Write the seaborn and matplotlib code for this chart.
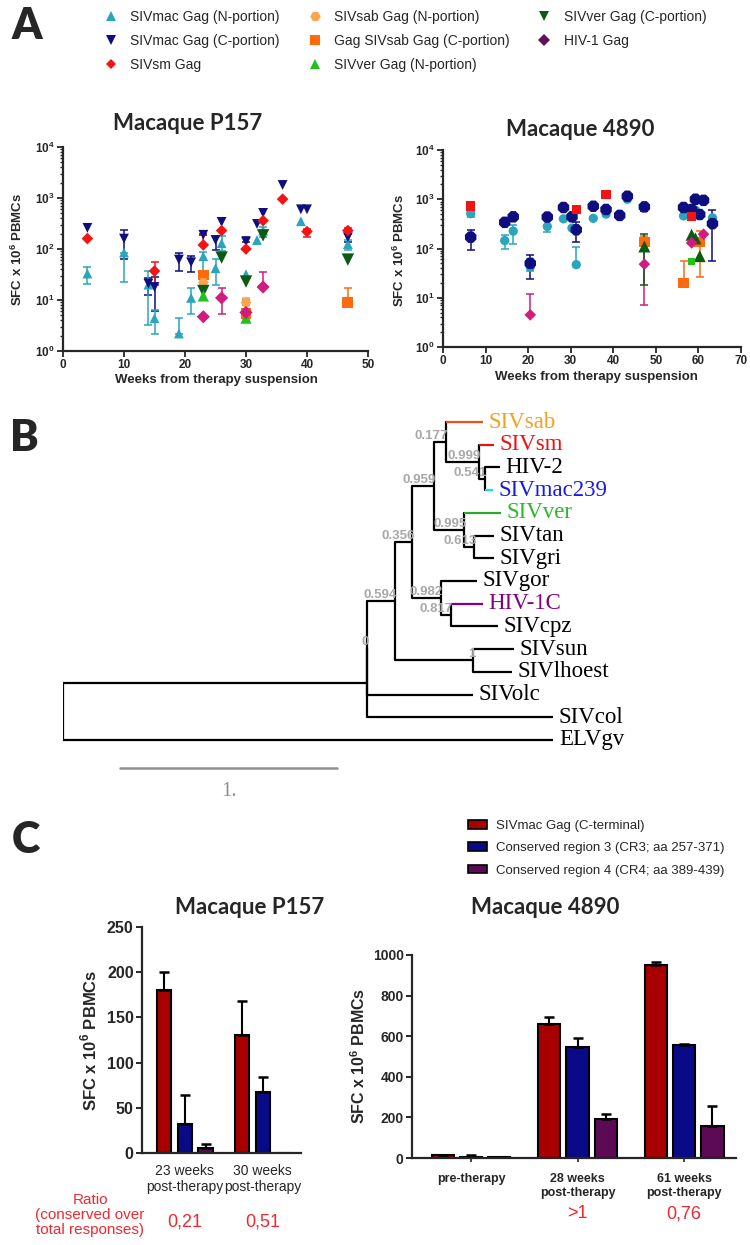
import numpy as np
import pandas as pd
import matplotlib
matplotlib.use("Agg")
import matplotlib.pyplot as plt
import matplotlib.transforms as mtransforms
from matplotlib.lines import Line2D
from matplotlib.patches import Patch
from matplotlib.ticker import LogLocator, NullFormatter
import seaborn as sns

sns.set_style("ticks")
plt.rcParams['font.family'] = ['Liberation Sans', 'DejaVu Sans']
plt.rcParams['mathtext.fontset'] = 'custom'
plt.rcParams['mathtext.rm'] = 'Liberation Sans'
plt.rcParams['mathtext.bf'] = 'Liberation Sans:bold'

nan = np.nan

# ---------------- panel A data ----------------
series_keys = ["macN", "macC", "sm", "sabN", "sabC", "verN", "verC", "hiv1"]
series_labels = ["SIVmac Gag (N-portion)", "SIVmac Gag (C-portion)", "SIVsm Gag",
                 "SIVsab Gag (N-portion)", "Gag SIVsab Gag (C-portion)", "SIVver Gag (N-portion)",
                 "SIVver Gag (C-portion)", "HIV-1 Gag"]

p157_week = [4, 4, 4, 10, 10, 14, 14, 15, 15, 15, 19, 19, 21, 21,
             23, 23, 23, 23, 23, 23, 23, 23, 25, 25, 26, 26, 26, 26, 26,
             30, 30, 30, 30, 30, 30, 30, 30, 31.8, 31.8, 32.8, 32.8, 32.8, 32.8, 32.8,
             36, 36, 39, 39, 40, 40, 46.7, 46.7, 46.7, 46.7, 46.7]
p157_series = ["macC", "sm", "macN", "macC", "macN", "macC", "macN", "macC", "sm", "macN",
               "macC", "macN", "macC", "macN",
               "macC", "sm", "macN", "sabC", "sabN", "verC", "verN", "hiv1",
               "macC", "macN", "macC", "sm", "macN", "verC", "hiv1",
               "macC", "sm", "macN", "verC", "sabN", "sabC", "hiv1", "verN",
               "macC", "macN", "macC", "sm", "macN", "verC", "hiv1",
               "macC", "sm", "macC", "macN", "macC", "sm", "sm", "macC", "macN", "verC", "sabC"]
p157_sfc = [260, 160, 33, 160, 85, 21, 20, 18, 37, 4.4, 62, 2.2, 55, 11,
            190, 120, 72, 31, 22, 15, 12, 4.7, 150, 42, 340, 230, 130, 68, 11,
            140, 100, 32, 23, 9, 5.5, 5.7, 4.4, 310, 150, 510, 360, 230, 185, 18,
            1800, 950, 600, 350, 600, 220, 230, 170, 125, 62, 9]
p157_lo = [nan, nan, 21, 65, 23, 12.5, 3.2, 6, 20, 2.2, 37, nan, 35, 5.2,
           nan, nan, 35, nan, nan, nan, nan, nan, 95, 20, nan, nan, 90, nan, 5.2,
           nan, nan, nan, nan, 6, 4, nan, nan, nan, nan, nan, nan, 170, nan, nan,
           nan, nan, nan, nan, nan, 170, nan, 140, 95, nan, nan]
p157_hi = [nan, nan, 45, 240, nan, 27, 37, 28, 56, 6.5, 85, 4.5, 72, 17,
           200, 200, 88, nan, nan, nan, nan, nan, 180, 65, nan, nan, 180, nan, 17,
           170, nan, nan, nan, 11, 8, 10, nan, nan, nan, nan, nan, 270, nan, 35,
           nan, nan, nan, nan, nan, 250, 260, 200, 150, nan, 17]

m4890_week = [6.5, 6.5, 6.5, 14.5, 14.5, 16.5, 16.5, 20.5, 20.5, 20.5, 24.5, 24.5,
              28.3, 28.3, 30.3, 30.3, 31.3, 31.3, 31.3, 35.3, 35.3, 38.3, 38.3, 38.3,
              41.5, 43.3, 43.3, 47.3, 47.3, 47.3, 47.3, 56.5, 56.5, 56.5,
              58.4, 58.4, 58.4, 58.4, 58.4, 59.3, 59.3, 59.3, 60.3, 60.3, 60.3,
              61.2, 61.2, 63.3, 63.3]
m4890_series = ["sm", "macN", "macC", "macC", "macN", "macC", "macN", "macC", "macN", "hiv1",
                "macC", "macN", "macC", "macN", "macC", "macN", "sm", "macC", "macN",
                "macC", "macN", "sm", "macC", "macN", "macC", "macC", "macN",
                "macC", "sabC", "verC", "hiv1", "macC", "macN", "sabC",
                "macC", "sm", "verC", "hiv1", "verN", "macC", "verC", "macN",
                "macC", "sabC", "verC", "macC", "hiv1", "macC", "macN"]
m4890_sfc = [730, 510, 170, 340, 145, 440, 225, 50, 42, 4.5, 435, 280, 680, 400, 440, 260,
             620, 240, 47, 720, 410, 1250, 620, 500, 470, 1150, 1000, 700, 135, 110, 48,
             680, 460, 20, 620, 450, 190, 130, 55, 1000, 160, 600, 490, 135, 70, 950, 195,
             320, 420]
m4890_lo = [nan, 440, 95, nan, 100, nan, 125, 24, 35, nan, nan, 220, nan, nan, nan, nan,
            nan, 135, nan, nan, nan, nan, nan, nan, nan, nan, nan, 580, 90, 18, 7,
            nan, nan, nan, nan, nan, nan, nan, nan, nan, nan, nan, nan, 26, nan, nan, nan,
            55, nan]
m4890_hi = [nan, 560, 240, nan, 190, nan, 300, 75, 60, 12, nan, 300, nan, nan, nan, nan,
            nan, 340, 105, nan, nan, nan, nan, nan, nan, nan, nan, 740, 180, 200, 140,
            nan, nan, 55, nan, nan, nan, nan, nan, nan, nan, nan, nan, 230, nan, nan, nan,
            600, nan]

# ---------------- panel B data ----------------
newick = ("(((((((SIVsab:0.17,(SIVsm:0.07,(HIV-2:0.07,SIVmac239:0.04)0.541:0.028)0.999:0.15)0.177:0.055,"
          "(SIVver:0.17,(SIVtan:0.09,SIVgri:0.09)0.613:0.046)0.995:0.14)0.959:0.10,"
          "(SIVgor:0.17,(HIV-1C:0.15,SIVcpz:0.22)0.817:0.046)0.982:0.13)0.356:0.08,"
          "(SIVsun:0.19,SIVlhoest:0.18)1:0.36)0.594:0.13,"
          "SIVolc:0.49)0:0,"
          "SIVcol:0.857):1.40,"
          "ELVgv:2.26);")
scale_len = 1.0

# ---------------- panel C data ----------------
c_regions = ["SIVmac Gag (C-terminal)", "Conserved region 3 (CR3; aa 257-371)",
             "Conserved region 4 (CR4; aa 389-439)"]
p157_groups = ["23 weeks\npost-therapy", "30 weeks\npost-therapy"]
p157_mac = [180, 130]
p157_cr3 = [32, 67]
p157_cr4 = [5, 0]
p157_mac_err = [20, 38]
p157_cr3_err = [32, 17]
p157_cr4_err = [5, 0]
p157_ratio = ["0,21", "0,51"]

m4890_groups = ["pre-therapy", "28 weeks\npost-therapy", "61 weeks\npost-therapy"]
m4890_mac = [15, 660, 950]
m4890_cr3 = [7, 548, 555]
m4890_cr4 = [3, 190, 160]
m4890_mac_err = [2, 37, 15]
m4890_cr3_err = [6, 44, 7]
m4890_cr4_err = [2, 28, 98]
m4890_ratio = ["", ">1", "0,76"]

# ---------------- styling ----------------
point_colors = {"macN": "#2AA5BC", "macC": "#0E0E7E", "sm": "#F21414", "sabN": "#FDA54E",
                "sabC": "#FF6A0D", "verN": "#22C21E", "verC": "#0C5B12", "hiv1": "#CF1C7E"}
legend_colors = dict(point_colors, hiv1="#601456")
draw_order = ["macN", "macC", "sm", "sabC", "sabN", "verC", "verN", "hiv1"]
p157_markers = {"macN": "^", "macC": "v", "sm": "D", "sabN": "H", "sabC": "s",
                "verN": "^", "verC": "v", "hiv1": "D"}
p157_sizes = {"macN": 50, "macC": 50, "sm": 35, "sabN": 55, "sabC": 60,
              "verN": 65, "verC": 80, "hiv1": 45}
m4890_markers = {"macN": "o", "macC": "8", "sm": "s", "sabN": "H", "sabC": "s",
                 "verN": "s", "verC": "^", "hiv1": "D"}
m4890_sizes = {"macN": 45, "macC": 80, "sm": 45, "sabN": 50, "sabC": 60,
               "verN": 25, "verC": 75, "hiv1": 35}
c_colors = ["#A80000", "#0A0A88", "#5C0A55"]
tip_line_colors = {"SIVsab": "#F0501E", "SIVsm": "#EE1111", "SIVmac239": "#10E0F0",
                   "SIVver": "#2EA82E", "HIV-1C": "#800080"}
tip_text_colors = {"SIVsab": "#F5A020", "SIVsm": "#EE1111", "SIVmac239": "#1A1AE6",
                   "SIVver": "#2EB82E", "HIV-1C": "#800080"}
ratio_red = "#F02830"

W, H = 750, 1245
fig = plt.figure(figsize=(W / 100, H / 100), dpi=100)


def fx(x):
    return x / W


def fy(y):
    return 1 - y / H


def box(x0, y0, x1, y1):
    return fig.add_axes([fx(x0), fy(y1), (x1 - x0) / W, (y1 - y0) / H])


title_font = dict(family=['Lato', 'Liberation Sans', 'DejaVu Sans'], fontweight='bold', fontsize=16)
letter_font = dict(family=['Lato', 'Liberation Sans', 'DejaVu Sans'], fontweight='heavy', fontsize=31)
ylab_a = r'SFC x 10$^{\mathbf{6}}$ PBMCs'


def scatter_panel(ax, week, series, sfc, lo, hi, markers, sizes, xmax):
    df = pd.DataFrame(dict(week=week, series=series, sfc=sfc, lo=lo, hi=hi))
    df["rank"] = df["series"].map({k: i for i, k in enumerate(draw_order)})
    df = df.sort_values("rank", kind="stable")
    used = [k for k in draw_order if k in set(df["series"])]
    ax.set_yscale("log")
    for s, d in df.groupby("series"):
        d = d[d["lo"].notna() | d["hi"].notna()]
        if d.empty:
            continue
        low = (d["sfc"] - d["lo"]).fillna(0).to_numpy()
        up = (d["hi"] - d["sfc"]).fillna(0).to_numpy()
        ax.errorbar(d["week"], d["sfc"], yerr=[low, up], fmt="none", ecolor=point_colors[s],
                    elinewidth=1.1, capsize=3, capthick=1.1, zorder=2)
    sns.scatterplot(data=df, x="week", y="sfc", hue="series", style="series", size="series",
                    hue_order=used, style_order=used, size_order=used,
                    palette={k: point_colors[k] for k in used},
                    markers={k: markers[k] for k in used},
                    sizes={k: sizes[k] for k in used},
                    linewidth=0, legend=False, ax=ax, zorder=3)
    ax.set_xlim(0, xmax)
    ax.set_ylim(1, 1e4)
    ax.set_xticks(range(0, xmax + 1, 10))
    ax.set_xticklabels([str(v) for v in range(0, xmax + 1, 10)], fontweight='bold', fontsize=8.5)
    ax.set_yticks([1, 10, 100, 1000, 10000])
    ax.set_yticklabels([r'$\mathbf{10^{%d}}$' % i for i in range(5)], fontsize=8.5)
    ax.yaxis.set_minor_locator(LogLocator(base=10, subs=np.arange(2, 10) * 1.0, numticks=20))
    ax.yaxis.set_minor_formatter(NullFormatter())
    ax.tick_params(which='major', width=1.3, length=4, pad=2)
    ax.tick_params(which='minor', width=1.0, length=2.5)
    ax.set_xlabel("Weeks from therapy suspension", fontweight='bold', fontsize=9.5)
    ax.set_ylabel(ylab_a, fontweight='bold', fontsize=9.5)
    sns.despine(ax=ax)
    for sp in ("left", "bottom"):
        ax.spines[sp].set_linewidth(1.6)


# ---------------- panel A ----------------
fig.text(fx(12), fy(6), "A", va='top', **letter_font)

handles = [Line2D([], [], linestyle='none', marker=p157_markers[k], markersize=6.5 if k != "sm" else 5.5,
                  color=legend_colors[k], markeredgewidth=0) for k in series_keys]
handles[3] = Line2D([], [], linestyle='none', marker='H', markersize=7.5,
                    color=legend_colors["sabN"], markeredgewidth=0)
fig.legend(handles, series_labels, ncol=3, loc='upper left', bbox_to_anchor=(fx(104), fy(10)),
           frameon=False, fontsize=10, handlelength=1.0, handletextpad=0.9,
           columnspacing=2.0, labelspacing=0.72, borderpad=0, borderaxespad=0)

axA1 = box(63, 147, 368, 351)
scatter_panel(axA1, p157_week, p157_series, p157_sfc, p157_lo, p157_hi, p157_markers, p157_sizes, 50)
axA1.yaxis.set_label_coords(fx(25), fy(249), transform=fig.transFigure)
axA1.xaxis.set_label_coords(fx(216), fy(374), transform=fig.transFigure)
fig.text(fx(188), fy(123), "Macaque P157", ha='center', va='center', **title_font)

axA2 = box(443, 150, 741, 347)
scatter_panel(axA2, m4890_week, m4890_series, m4890_sfc, m4890_lo, m4890_hi, m4890_markers, m4890_sizes, 70)
axA2.yaxis.set_label_coords(fx(407), fy(250), transform=fig.transFigure)
axA2.xaxis.set_label_coords(fx(596), fy(371), transform=fig.transFigure)
fig.text(fx(580), fy(129), "Macaque 4890", ha='center', va='center', **title_font)


# ---------------- panel B ----------------
def parse_newick(s):
    pos = 0

    def node():
        nonlocal pos
        kids = []
        if s[pos] == "(":
            pos += 1
            while True:
                kids.append(node())
                if s[pos] == ",":
                    pos += 1
                else:
                    pos += 1
                    break
        start = pos
        while s[pos] not in ":,);":
            pos += 1
        label = s[start:pos]
        length = 0.0
        if s[pos] == ":":
            pos += 1
            start = pos
            while s[pos] not in ",);":
                pos += 1
            length = float(s[start:pos])
        return {"label": label, "len": length, "kids": kids}

    return node()


tree = parse_newick(newick)
tips = []


def layout(n, x0):
    n["x"] = x0 + n["len"]
    if not n["kids"]:
        n["y"] = len(tips)
        tips.append(n)
    else:
        for k in n["kids"]:
            layout(k, n["x"])
        n["y"] = (n["kids"][0]["y"] + n["kids"][-1]["y"]) / 2


layout(tree, 0.0)

fig.text(fx(10), fy(418), "B", va='top', **letter_font)
unit_px, tip_px, tip0 = 217.0, 22.71, 422.0
axB = box(63, 400, 723, 805)
axB.set_xlim(0, 660 / unit_px)
axB.set_ylim((805 - tip0) / tip_px, (400 - tip0) / tip_px)
axB.axis("off")
serif = ['Liberation Serif', 'DejaVu Serif']


def draw(n):
    if not n["kids"]:
        axB.text(n["x"] + 0.025, n["y"], n["label"], va='center', ha='left', fontsize=16.5,
                 family=serif, color=tip_text_colors.get(n["label"], "black"))
        return
    axB.plot([n["x"], n["x"]], [n["kids"][0]["y"], n["kids"][-1]["y"]], color="black", lw=1.6)
    for k in n["kids"]:
        c = tip_line_colors.get(k["label"], "black") if not k["kids"] else "black"
        axB.plot([n["x"], k["x"]], [k["y"], k["y"]], color=c, lw=1.6, solid_capstyle='butt')
        draw(k)
    if n["label"]:
        axB.text(n["x"] + 0.01, n["y"] - 0.27, n["label"], ha='right', va='center', fontsize=9.5,
                 fontweight='bold', color="#A8A8A8")


draw(tree)
bar_x0 = (120 - 63) / unit_px
bar_y = (768 - tip0) / tip_px
axB.plot([bar_x0, bar_x0 + scale_len], [bar_y, bar_y], color="#909090", lw=1.8)
axB.text(bar_x0 + scale_len / 2, (792 - tip0) / tip_px, "%g." % scale_len, ha='center', va='center',
         fontsize=15, family=serif, color="#909090")


# ---------------- panel C ----------------
def bar_panel(ax, groups, vals, errs, gap, ymax, step):
    df = pd.DataFrame({"group": groups * 3,
                       "region": [r for r in c_regions for _ in groups],
                       "sfc": vals[0] + vals[1] + vals[2]})
    sns.barplot(data=df, x="group", y="sfc", hue="region", order=groups, hue_order=c_regions,
                palette=c_colors, saturation=1, edgecolor="black", linewidth=1.5, gap=gap,
                errorbar=None, legend=False, ax=ax)
    for cont, err in zip(ax.containers, errs):
        for bar, e in zip(cont, err):
            if e <= 0:
                continue
            xc = bar.get_x() + bar.get_width() / 2
            ax.errorbar([xc], [bar.get_height()], yerr=[[0], [e]], fmt="none", ecolor="black",
                        elinewidth=1.5, capsize=3.5, capthick=1.8, zorder=1)
    ax.set_ylim(0, ymax)
    ax.set_yticks(np.arange(0, ymax + 1, step))
    ax.set_yticklabels([str(int(v)) for v in np.arange(0, ymax + 1, step)], fontweight='bold')
    ax.set_xlabel("")
    ax.set_ylabel(ylab_a, fontweight='bold')
    sns.despine(ax=ax)
    for sp in ("left", "bottom"):
        ax.spines[sp].set_linewidth(1.6)
    ax.tick_params(axis='y', width=1.4, length=4, pad=2)


fig.text(fx(12), fy(820), "C", va='top', **letter_font)

c_handles = [Patch(facecolor=c, edgecolor="black", linewidth=1.2) for c in c_colors]
fig.legend(c_handles, c_regions, loc='upper left', bbox_to_anchor=(fx(468), fy(820)),
           frameon=False, fontsize=9.5, handlelength=1.45, handleheight=0.6, handletextpad=0.7,
           labelspacing=0.78, borderpad=0, borderaxespad=0)

axC1 = box(142, 927, 301, 1153)
bar_panel(axC1, p157_groups, [p157_mac, p157_cr3, p157_cr4],
          [p157_mac_err, p157_cr3_err, p157_cr4_err], 0.3, 250, 50)
axC1.set_xlim(-0.55, 1.49)
axC1.tick_params(axis='y', labelsize=11.5)
axC1.tick_params(axis='x', length=0, pad=8)
axC1.set_xticks(range(len(p157_groups)))
axC1.set_xticklabels(p157_groups, fontsize=10)
axC1.yaxis.set_label_coords(fx(99), fy(1040), transform=fig.transFigure)
axC1.yaxis.label.set_fontsize(12)
fig.text(fx(250), fy(907), "Macaque P157", ha='center', va='center', **title_font)

axC2 = box(412, 955, 736, 1158)
bar_panel(axC2, m4890_groups, [m4890_mac, m4890_cr3, m4890_cr4],
          [m4890_mac_err, m4890_cr3_err, m4890_cr4_err], 0.22, 1000, 200)
axC2.set_xlim(-0.554, 2.488)
axC2.tick_params(axis='y', labelsize=10)
axC2.tick_params(axis='x', length=3, width=1.2, pad=8)
axC2.set_xticks(range(len(m4890_groups)))
axC2.set_xticklabels(m4890_groups, fontsize=9, fontweight='bold')
axC2.yaxis.set_label_coords(fx(368), fy(1056), transform=fig.transFigure)
axC2.yaxis.label.set_fontsize(11.5)
fig.text(fx(545), fy(908), "Macaque 4890", ha='center', va='center', **title_font)

# ratio annotations
fig.text(fx(90), fy(1215), "Ratio\n(conserved over\ntotal responses)", ha='center', va='center',
         color=ratio_red, fontsize=11, linespacing=1.05)
tr1 = mtransforms.blended_transform_factory(axC1.transData, fig.transFigure)
for i, t in enumerate(p157_ratio):
    axC1.text(i, fy(1222), t, transform=tr1, ha='center', va='center', color=ratio_red, fontsize=13)
tr2 = mtransforms.blended_transform_factory(axC2.transData, fig.transFigure)
for i, t in enumerate(m4890_ratio):
    axC2.text(i, fy(1214), t, transform=tr2, ha='center', va='center', color=ratio_red, fontsize=13)

fig.savefig("out.png", dpi=100)
